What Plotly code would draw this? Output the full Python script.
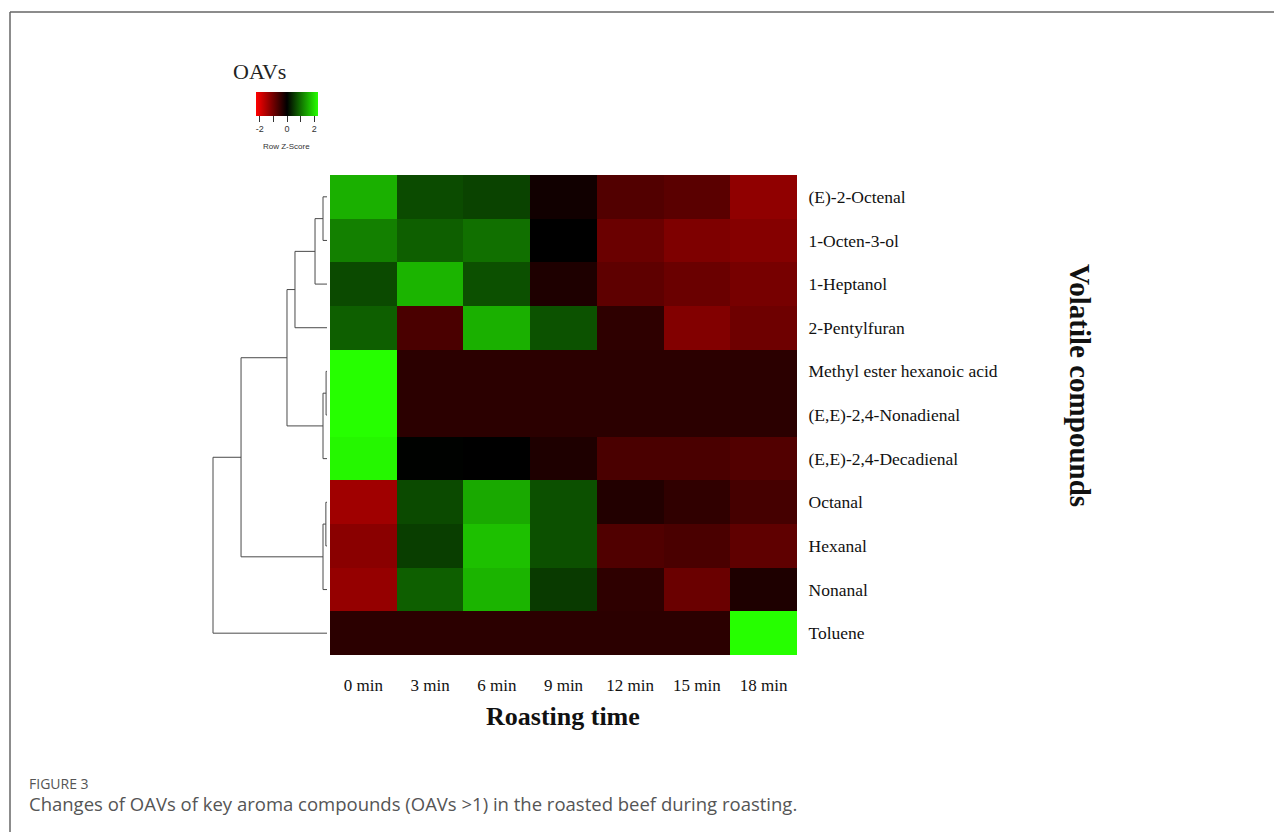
import plotly.graph_objects as go

# page body has an 8px margin, so the figure is drawn 8px in from the top-left
OFF = 8
W, H = 1282 - OFF, 832 - OFF


def px(x):
    return (x - OFF) / W


def py(y):
    return 1 - (y - OFF) / H


# ---------------- data ----------------
times = ["0 min", "3 min", "6 min", "9 min", "12 min", "15 min", "18 min"]
compounds = [
    "(E)-2-Octenal",
    "1-Octen-3-ol",
    "1-Heptanol",
    "2-Pentylfuran",
    "Methyl ester hexanoic acid",
    "(E,E)-2,4-Nonadienal",
    "(E,E)-2,4-Decadienal",
    "Octanal",
    "Hexanal",
    "Nonanal",
    "Toluene",
]
# row z-scores, one list per compound, columns = times
z_octenal      = [1.57, 0.67, 0.60, -0.15, -0.73, -0.80, -1.28]
z_octenol      = [1.14, 0.85, 1.00, 0.00, -0.94, -1.12, -1.18]
z_heptanol     = [0.66, 1.60, 0.71, -0.27, -0.84, -0.94, -1.06]
z_pentylfuran  = [0.85, -0.66, 1.57, 0.73, -0.41, -1.16, -0.98]
z_methylester  = [2.27, -0.38, -0.38, -0.38, -0.38, -0.38, -0.38]
z_nonadienal   = [2.27, -0.38, -0.38, -0.38, -0.38, -0.38, -0.38]
z_decadienal   = [2.20, 0.02, 0.00, -0.27, -0.66, -0.66, -0.73]
z_octanal      = [-1.42, 0.66, 1.50, 0.71, -0.30, -0.43, -0.61]
z_hexanal      = [-1.23, 0.55, 1.71, 0.71, -0.71, -0.66, -0.85]
z_nonanal      = [-1.33, 0.85, 1.60, 0.52, -0.41, -0.94, -0.27]
z_toluene      = [-0.38, -0.38, -0.38, -0.38, -0.38, -0.38, 2.27]
zscores = [z_octenal, z_octenol, z_heptanol, z_pentylfuran, z_methylester,
           z_nonadienal, z_decadienal, z_octanal, z_hexanal, z_nonanal, z_toluene]

# row dendrogram (leaf indices 0..10, new nodes numbered from 11)
merge_left   = [0, 11, 12, 4, 14, 7, 16, 13, 18, 19]
merge_right  = [1, 2, 3, 5, 6, 8, 9, 15, 17, 10]
merge_height = [0.35, 1.05, 2.81, 0.08, 0.35, 0.10, 0.35, 3.51, 7.54, 10.0]

key_ticks = [-2, -1, 0, 1, 2]
key_labels = ["-2", "", "0", "", "2"]

# ---------------- figure ----------------
n = len(compounds)
row_idx = list(range(n))
col_idx = list(range(len(times)))

pos = {i: i for i in row_idx}
hgt = {i: 0.0 for i in row_idx}
dx, dy = [], []
for k, (a, b, h) in enumerate(zip(merge_left, merge_right, merge_height)):
    node = n + k
    ya, yb = pos[a], pos[b]
    dx += [hgt[a], h, h, hgt[b], None]
    dy += [ya, ya, yb, yb, None]
    pos[node] = (ya + yb) / 2
    hgt[node] = h

colorscale = [[0.0, "#FF0000"], [0.5, "#000000"], [1.0, "#26FF00"]]

fig = go.Figure()
fig.add_trace(go.Heatmap(
    z=zscores, x=col_idx, y=row_idx,
    colorscale=colorscale, zmin=-2.27, zmax=2.27, xgap=0, ygap=0,
    colorbar=dict(
        orientation="h", x=px(287), xanchor="center",
        y=py(92), yanchor="top",
        len=62, lenmode="pixels", thickness=24, thicknessmode="pixels",
        outlinewidth=0, xpad=0, ypad=0,
        tickvals=key_ticks, ticktext=key_labels,
        ticks="outside", ticklen=6, tickwidth=1, tickcolor="#333",
        tickfont=dict(family="Liberation Sans", size=9, color="#333"),
    ),
    hoverinfo="skip",
))
fig.add_trace(go.Scatter(
    x=dx, y=dy, xaxis="x2", yaxis="y", mode="lines",
    line=dict(color="#4a4a4a", width=1), hoverinfo="skip", showlegend=False,
))

ppu = (327 - 213) / 10.0
serif = "Liberation Serif"
fig.update_layout(
    width=W, height=H,
    margin=dict(l=0, r=0, t=0, b=0),
    paper_bgcolor="white", plot_bgcolor="white",
    showlegend=False,
    xaxis=dict(domain=[px(330), px(797)], range=[-0.5, 6.5],
               tickvals=col_idx, ticktext=times, showgrid=False, zeroline=False,
               ticks="outside", ticklen=15, tickcolor="rgba(0,0,0,0)",
               tickfont=dict(family=serif, size=17, color="#111"),
               showline=False, anchor="y"),
    yaxis=dict(domain=[py(655), py(175)], range=[n - 0.5, -0.5],
               tickvals=row_idx, ticktext=compounds, side="right",
               showgrid=False, zeroline=False,
               ticks="outside", ticklen=7, tickcolor="rgba(0,0,0,0)",
               tickfont=dict(family=serif, size=17.5, color="#111"),
               showline=False, anchor="x"),
    xaxis2=dict(domain=[0, px(330)], range=[(327 - OFF) / ppu, -3 / ppu],
                visible=False, anchor="y", showgrid=False, zeroline=False),
    annotations=[
        dict(text="OAVs", x=px(259), y=py(72), xref="paper", yref="paper",
             xanchor="center", yanchor="middle", showarrow=False,
             font=dict(family=serif, size=22, color="#222")),
        dict(text="Row Z-Score", x=px(286), y=py(147), xref="paper", yref="paper",
             xanchor="center", yanchor="middle", showarrow=False,
             font=dict(family="Liberation Sans", size=8, color="#333")),
        dict(text="<b>Roasting time</b>", x=px(563), y=py(716),
             xref="paper", yref="paper", xanchor="center", yanchor="middle",
             showarrow=False, font=dict(family=serif, size=26, color="#111")),
        dict(text="<b>Volatile compounds</b>", x=px(1080), y=py(385),
             xref="paper", yref="paper", xanchor="center", yanchor="middle",
             showarrow=False, textangle=90,
             font=dict(family=serif, size=29, color="#111")),
        dict(text="FIGURE 3", x=px(27), y=py(783), xref="paper", yref="paper",
             xanchor="left", yanchor="middle", showarrow=False,
             font=dict(family="Open Sans", size=14, color="#555")),
        dict(text="Changes of OAVs of key aroma compounds (OAVs &gt;1) in the roasted beef during roasting.",
             x=px(27), y=py(803), xref="paper", yref="paper",
             xanchor="left", yanchor="middle", showarrow=False,
             font=dict(family="Open Sans", size=18.5, color="#555")),
    ],
    shapes=[
        dict(type="line", xref="paper", yref="paper",
             x0=px(10), x1=px(10), y0=0, y1=py(12),
             line=dict(color="#666", width=1.5)),
        dict(type="line", xref="paper", yref="paper",
             x0=px(10), x1=1, y0=py(12), y1=py(12),
             line=dict(color="#666", width=1.5)),
    ],
)

fig.write_html("out.html")
